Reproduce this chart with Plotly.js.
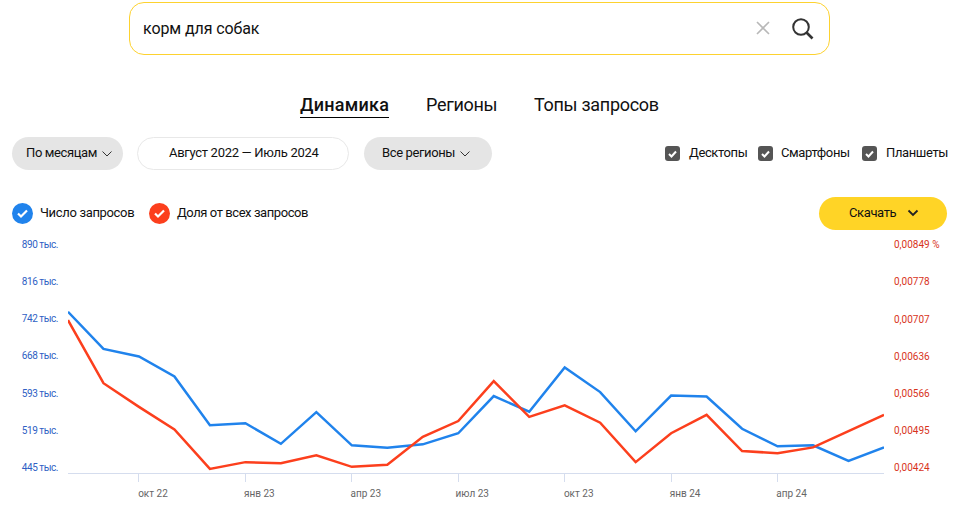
<!DOCTYPE html>
<html>
<head>
<meta charset="utf-8">
<script src="https://cdn.plot.ly/plotly-3.0.1.min.js"></script>
<style>
  body { margin: 0; background: #fff; font-family: Roboto, sans-serif; color: #111; }
  #page { position: relative; width: 972px; height: 512px; overflow: hidden; }
  #chart { position: absolute; left: 0; top: 0; width: 972px; height: 512px; }
  #chart .ytick text { letter-spacing: -0.45px; }
  .t { position: absolute; white-space: nowrap; line-height: 20px; height: 20px; font-size: 13px; letter-spacing: -0.38px; }
  .pill { position: absolute; top: 137px; height: 33px; border-radius: 17px; background: #e5e5e5; box-sizing: border-box; }
  .tab { font-size: 18px; letter-spacing: -0.3px; }
  .box { position: absolute; top: 146px; width: 15px; height: 15px; border-radius: 3px; background: #555; }
  .round { position: absolute; top: 202.5px; width: 21px; height: 21px; border-radius: 50%; }
  svg { position: absolute; overflow: visible; }
</style>
</head>
<body>
<div id="page">
  <div id="chart"></div>

  <div style="position:absolute;left:129px;top:2px;width:701px;height:53px;box-sizing:border-box;border:1px solid #fdd22f;border-radius:15px"></div>
  <div class="t" style="left:143px;top:19px;font-size:16px;letter-spacing:-0.1px">корм для собак</div>
  <svg style="left:757px;top:22px" width="12" height="12"><path d="M0 0L12 12M12 0L0 12" stroke="#b8b8b8" stroke-width="1.6" fill="none"/></svg>
  <svg style="left:792px;top:18px" width="22" height="22"><circle cx="9" cy="9" r="7.8" stroke="#333" stroke-width="2" fill="none"/><path d="M14.5 14.5L20.5 20.5" stroke="#333" stroke-width="2.6" fill="none"/></svg>

  <div class="t tab" style="left:300px;top:95px;font-weight:500;letter-spacing:0.25px">Динамика</div>
  <div style="position:absolute;left:300px;top:117px;width:89px;height:1px;background:#000"></div>
  <div class="t tab" style="left:426px;top:95px">Регионы</div>
  <div class="t tab" style="left:534px;top:95px">Топы запросов</div>

  <div class="pill" style="left:12px;width:111px"></div>
  <div class="t" style="left:26px;top:143px">По месяцам</div>
  <svg style="left:102px;top:151px" width="10" height="6"><path d="M0.5 0.5L5 5L9.5 0.5" stroke="#333" fill="none"/></svg>
  <div class="pill" style="left:137px;width:212px;background:#fff;border:1px solid #e8e8e8"></div>
  <div class="t" style="left:169px;top:143px;letter-spacing:-0.3px">Август 2022 — Июль 2024</div>
  <div class="pill" style="left:364px;width:128px"></div>
  <div class="t" style="left:382px;top:143px">Все регионы</div>
  <svg style="left:460px;top:151px" width="10" height="6"><path d="M0.5 0.5L5 5L9.5 0.5" stroke="#333" fill="none"/></svg>

  <div class="box" style="left:665px"></div>
  <svg style="left:668px;top:150px" width="9" height="8"><path d="M1 4L3.5 6.5L8 1.5" stroke="#fff" stroke-width="2" fill="none"/></svg>
  <div class="t" style="left:689px;top:143px">Десктопы</div>
  <div class="box" style="left:758px"></div>
  <svg style="left:761px;top:150px" width="9" height="8"><path d="M1 4L3.5 6.5L8 1.5" stroke="#fff" stroke-width="2" fill="none"/></svg>
  <div class="t" style="left:781px;top:143px">Смартфоны</div>
  <div class="box" style="left:862px"></div>
  <svg style="left:865px;top:150px" width="9" height="8"><path d="M1 4L3.5 6.5L8 1.5" stroke="#fff" stroke-width="2" fill="none"/></svg>
  <div class="t" style="left:886px;top:143px">Планшеты</div>

  <div class="round" style="left:12px;background:#2083ec"></div>
  <svg style="left:17px;top:208.5px" width="11" height="9"><path d="M1 4.5L4 7.5L10 1.5" stroke="#fff" stroke-width="2.2" fill="none"/></svg>
  <div class="t" style="left:40px;top:203px;letter-spacing:-0.33px">Число запросов</div>
  <div class="round" style="left:149px;background:#fc3f1d"></div>
  <svg style="left:154px;top:208.5px" width="11" height="9"><path d="M1 4.5L4 7.5L10 1.5" stroke="#fff" stroke-width="2.2" fill="none"/></svg>
  <div class="t" style="left:177px;top:203px;letter-spacing:-0.43px">Доля от всех запросов</div>

  <div style="position:absolute;left:819px;top:197px;width:128px;height:33px;border-radius:17px;background:#ffd426"></div>
  <div class="t" style="left:849px;top:203px">Скачать</div>
  <svg style="left:908px;top:210px" width="10" height="7"><path d="M0.5 0.5L5 5L9.5 0.5" stroke="#222" stroke-width="1.8" fill="none"/></svg>
</div>

<script>
// Values
var months = ["авг 22", "сен 22", "окт 22", "ноя 22", "дек 22", "янв 23", "фев 23", "мар 23",
  "апр 23", "май 23", "июн 23", "июл 23", "авг 23", "сен 23", "окт 23", "ноя 23", "дек 23",
  "янв 24", "фев 24", "мар 24", "апр 24", "май 24", "июн 24", "июл 24"];

// thousands of requests
var requests = [756, 682, 667, 627, 530, 534, 493, 556, 490, 485, 492, 514,
  588, 557, 645, 596, 518, 589, 587, 523, 488, 490, 459, 486];

// percent of all requests
var share = [0.00705, 0.00585, 0.00540, 0.00497, 0.00422, 0.00435, 0.00433, 0.00448,
  0.00426, 0.00430, 0.00483, 0.00513, 0.00589, 0.00521, 0.00543, 0.00510, 0.00435,
  0.00490, 0.00525, 0.00456, 0.00452, 0.00463, 0.00494, 0.00525];

var xTicks = ["окт 22", "янв 23", "апр 23", "июл 23", "окт 23", "янв 24", "апр 24"];
var leftVals = [445, 519, 593, 668, 742, 816, 890];
var leftText = ["445 тыс.", "519 тыс.", "593 тыс.", "668 тыс.", "742 тыс.", "816 тыс.", "890 тыс."];
var rightVals = [0.00424, 0.00495, 0.00566, 0.00636, 0.00707, 0.00778, 0.00849];
var rightText = ["0,00424", "0,00495", "0,00566", "0,00636", "0,00707", "0,00778", "0,00849 %"];

var trace1 = {
  x: months,
  y: requests,
  name: "Число запросов",
  type: "scatter",
  mode: "lines",
  line: {color: "#2083ec", width: 2.5}
};

var trace2 = {
  x: months,
  y: share,
  name: "Доля от всех запросов",
  type: "scatter",
  mode: "lines",
  yaxis: "y2",
  line: {color: "#fc3f1d", width: 2.5}
};

var layout = {
  width: 972,
  height: 512,
  margin: {l: 68, r: 87.5, t: 235, b: 38.5},
  showlegend: false,
  paper_bgcolor: "rgba(0,0,0,0)",
  plot_bgcolor: "rgba(0,0,0,0)",
  font: {family: "Roboto, sans-serif"},
  xaxis: {
    type: "category",
    range: [0, 23],
    tickvals: xTicks,
    ticktext: xTicks,
    ticks: "outside",
    ticklen: 8,
    tickwidth: 1,
    tickcolor: "#d5ddee",
    showline: true,
    linecolor: "#d5ddee",
    linewidth: 1,
    showgrid: false,
    zeroline: false,
    tickangle: 0,
    ticklabelshift: 14,
    ticklabelstandoff: 3,
    tickfont: {size: 10, color: "#666"}
  },
  yaxis: {
    range: [434.9, 908.8],
    tickvals: leftVals,
    ticktext: leftText,
    ticks: "",
    showgrid: false,
    zeroline: false,
    showline: false,
    ticklabelstandoff: 9,
    tickfont: {size: 10, color: "#2f5fc4"}
  },
  yaxis2: {
    overlaying: "y",
    side: "right",
    range: [0.0041433, 0.0086673],
    tickvals: rightVals,
    ticktext: rightText,
    ticks: "",
    showgrid: false,
    zeroline: false,
    showline: false,
    ticklabelstandoff: 9,
    tickfont: {size: 10, color: "#d8341c"}
  }
};

Plotly.newPlot("chart", [trace1, trace2], layout, {displayModeBar: false, staticPlot: true});
</script>
</body>
</html>
